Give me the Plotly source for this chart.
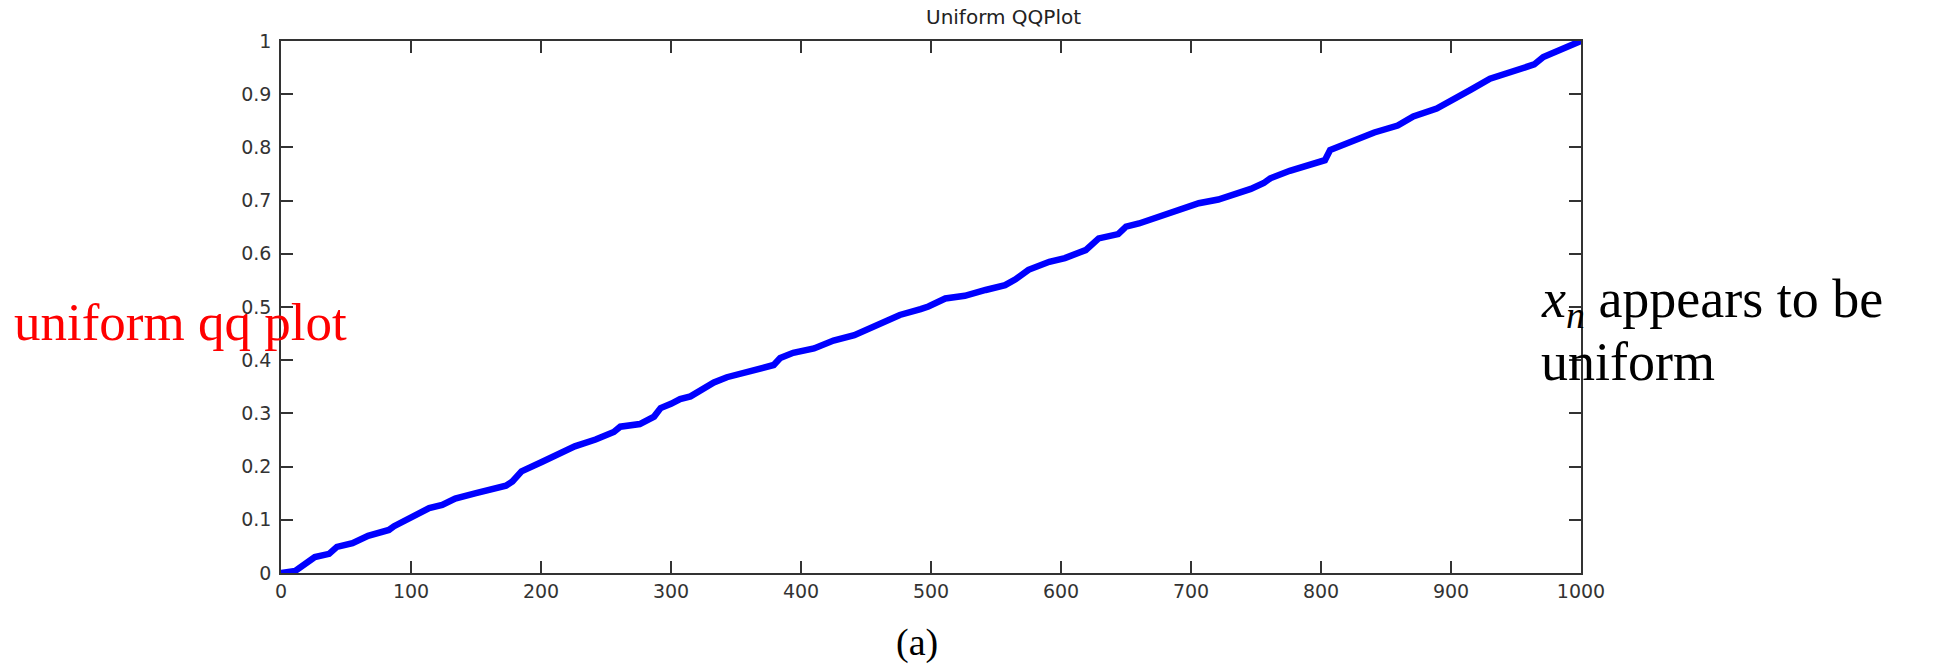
import plotly.graph_objects as go

# Sorted sample index (x) and the corresponding order statistic (y)
sample_index = [0, 11, 26, 37, 43, 55, 67, 83, 87, 98, 114, 124, 134, 150, 160,
                173, 178, 185, 201, 216, 226, 242, 256, 261, 276, 287, 292, 300,
                307, 315, 323, 333, 343, 353, 369, 379, 384, 394, 410, 425, 441,
                456, 466, 476, 492, 498, 511, 526, 542, 557, 565, 575, 591, 603,
                619, 629, 644, 650, 660, 675, 691, 706, 721, 737, 746, 756, 761,
                776, 792, 803, 807, 823, 841, 859, 871, 889, 905, 915, 930, 948,
                964, 971, 987, 1000]
sorted_value = [0.000, 0.004, 0.030, 0.036, 0.049, 0.056, 0.070, 0.081, 0.088,
                0.103, 0.122, 0.128, 0.140, 0.150, 0.157, 0.164, 0.172, 0.191,
                0.209, 0.228, 0.238, 0.251, 0.265, 0.275, 0.280, 0.294, 0.310,
                0.318, 0.327, 0.332, 0.344, 0.358, 0.368, 0.375, 0.384, 0.391,
                0.404, 0.414, 0.422, 0.437, 0.447, 0.463, 0.472, 0.485, 0.496,
                0.501, 0.516, 0.521, 0.532, 0.541, 0.552, 0.570, 0.585, 0.592,
                0.607, 0.629, 0.637, 0.651, 0.657, 0.670, 0.682, 0.695, 0.702,
                0.714, 0.722, 0.733, 0.742, 0.756, 0.767, 0.776, 0.795, 0.812,
                0.828, 0.841, 0.858, 0.873, 0.893, 0.908, 0.929, 0.942, 0.956,
                0.970, 0.986, 1.000]

x_ticks = [0, 100, 200, 300, 400, 500, 600, 700, 800, 900, 1000]
y_ticks = [0, 0.1, 0.2, 0.3, 0.4, 0.5, 0.6, 0.7, 0.8, 0.9, 1]
y_tick_text = ["0", "0.1", "0.2", "0.3", "0.4", "0.5", "0.6", "0.7", "0.8", "0.9", "1"]

W, H = 1935, 668
L, R, T, B = 281, 1581, 41, 573


def px_x(p):
    return (p - L) / (R - L)


def px_y(p):
    return (B - p) / (B - T)


fig = go.Figure()
fig.add_trace(go.Scatter(
    x=sample_index, y=sorted_value, mode="lines",
    line=dict(color="#0000ff", width=6.5),
    cliponaxis=False, showlegend=False,
))

axis_common = dict(
    showgrid=False, zeroline=False, showline=True, linecolor="#333333",
    linewidth=1.5, mirror="ticks", ticks="inside", ticklen=12,
    tickwidth=1.5, tickcolor="#333333",
    tickfont=dict(family="DejaVu Sans", size=19, color="#333333"),
)

fig.update_layout(
    width=W, height=H,
    margin=dict(l=L, r=W - R, t=T, b=H - B, pad=0),
    paper_bgcolor="white", plot_bgcolor="white",
    xaxis=dict(range=[0, 1000], tickvals=x_ticks, **axis_common),
    yaxis=dict(range=[0, 1], tickvals=y_ticks, ticktext=y_tick_text,
               ticklabelstandoff=4, **axis_common),
    annotations=[
        dict(text="Uniform QQPlot", xref="paper", yref="paper",
             x=px_x(1004), y=px_y(17),
             xanchor="center", yanchor="middle", showarrow=False,
             font=dict(family="DejaVu Sans", size=20, color="#222222")),
        dict(text="uniform qq plot", xref="paper", yref="paper",
             x=px_x(12), y=px_y(322),
             xanchor="left", yanchor="middle", showarrow=False,
             font=dict(family="Liberation Serif", size=53, color="#ff0000")),
        dict(text="<i>x</i><sub><i>n</i></sub> appears to be",
             xref="paper", yref="paper",
             x=px_x(1539), y=px_y(303),
             xanchor="left", yanchor="middle", align="left", showarrow=False,
             font=dict(family="Liberation Serif", size=54, color="#000000")),
        dict(text="uniform",
             xref="paper", yref="paper",
             x=px_x(1539), y=px_y(362),
             xanchor="left", yanchor="middle", align="left", showarrow=False,
             font=dict(family="Liberation Serif", size=54, color="#000000")),
        dict(text="(a)", xref="paper", yref="paper",
             x=px_x(917), y=px_y(642),
             xanchor="center", yanchor="middle", showarrow=False,
             font=dict(family="Liberation Serif", size=38, color="#000000")),
    ],
)

fig.write_html("out.html")
